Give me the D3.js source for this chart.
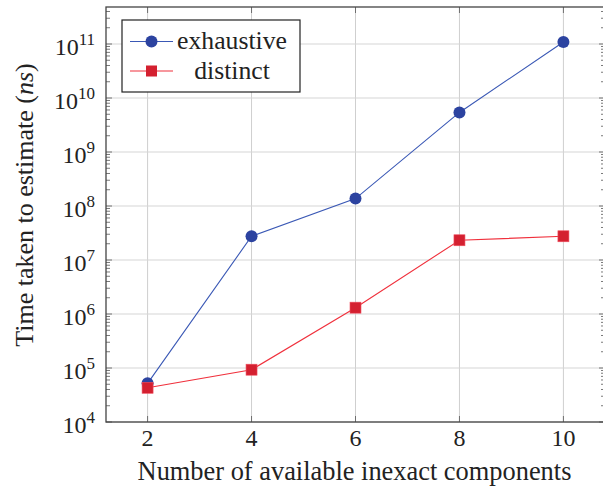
<!DOCTYPE html>
<html>
<head>
<meta charset="utf-8">
<script src="https://cdnjs.cloudflare.com/ajax/libs/d3/7.8.5/d3.min.js"></script>
</head>
<body style="margin:0">
<div id="chart"></div>
<script>
// data
const components = [2, 4, 6, 8, 10];
const exhaustive = [5.2e4, 2.75e7, 1.37e8, 5.4e9, 1.09e11];
const distinct = [4.3e4, 9.3e4, 1.31e6, 2.32e7, 2.75e7];
const xTicks = [2, 4, 6, 8, 10];
const yExponents = [4, 5, 6, 7, 8, 9, 10, 11];

const width = 603;
const height = 491;
const plotLeft = 106, plotRight = 605, plotTop = 7, plotBottom = 422;
const fontName = "Liberation Serif";
const textColor = "#222";

const svg = d3.select("#chart")
              .append("svg")
              .attr("width", width)
              .attr("height", height)
              .attr("font-family", fontName);

const xScale = d3.scaleLinear()
                 .domain([1.2, 10.8])
                 .range([plotLeft, plotRight]);

const yScale = d3.scaleLog()
                 .domain([1e4, Math.pow(10, 4 + (plotBottom - plotTop) / 54)])
                 .range([plotBottom, plotTop]);

// grid
svg.append("g")
   .selectAll("line")
   .data(xTicks)
   .enter()
   .append("line")
   .attr("x1", d => xScale(d)).attr("x2", d => xScale(d))
   .attr("y1", plotTop).attr("y2", plotBottom)
   .attr("stroke", "#cfcfcf").attr("stroke-width", 1);

svg.append("g")
   .selectAll("line")
   .data(yExponents)
   .enter()
   .append("line")
   .attr("x1", plotLeft).attr("x2", plotRight)
   .attr("y1", d => yScale(Math.pow(10, d))).attr("y2", d => yScale(Math.pow(10, d)))
   .attr("stroke", "#d6d6d6").attr("stroke-width", 1.2);

// minor ticks for log axis, inward on left and right
const minor = [];
for (let e = 4; e <= 11; e++) {
  for (let m = 2; m <= 9; m++) {
    const v = m * Math.pow(10, e);
    if (yScale(v) >= plotTop) minor.push(v);
  }
}
const tickColor = "#555";
[plotLeft, plotRight].forEach(function(xx) {
  const dir = xx === plotLeft ? 1 : -1;
  svg.append("g")
     .selectAll("line")
     .data(minor)
     .enter()
     .append("line")
     .attr("x1", xx).attr("x2", xx + dir * 4)
     .attr("y1", d => yScale(d)).attr("y2", d => yScale(d))
     .attr("stroke", tickColor).attr("stroke-width", 0.8);
  svg.append("g")
     .selectAll("line")
     .data(yExponents)
     .enter()
     .append("line")
     .attr("x1", xx).attr("x2", xx + dir * 6)
     .attr("y1", d => yScale(Math.pow(10, d))).attr("y2", d => yScale(Math.pow(10, d)))
     .attr("stroke", tickColor).attr("stroke-width", 0.8);
});
[plotBottom, plotTop].forEach(function(yy) {
  const dir = yy === plotBottom ? -1 : 1;
  svg.append("g")
     .selectAll("line")
     .data(xTicks)
     .enter()
     .append("line")
     .attr("x1", d => xScale(d)).attr("x2", d => xScale(d))
     .attr("y1", yy).attr("y2", yy + dir * 6)
     .attr("stroke", tickColor).attr("stroke-width", 0.8);
});

// frame
svg.append("rect")
   .attr("x", plotLeft).attr("y", plotTop)
   .attr("width", plotRight - plotLeft).attr("height", plotBottom - plotTop)
   .attr("fill", "none").attr("stroke", "#444").attr("stroke-width", 1.3);

// tick labels
svg.selectAll(".xlab")
   .data(xTicks)
   .enter()
   .append("text")
   .attr("class", "xlab")
   .attr("x", d => xScale(d))
   .attr("y", 446)
   .attr("text-anchor", "middle")
   .attr("font-family", fontName)
   .attr("font-size", 24)
   .attr("fill", textColor)
   .text(d => d);

const yLab = svg.selectAll(".ylab")
   .data(yExponents)
   .enter()
   .append("text")
   .attr("class", "ylab")
   .attr("x", 95)
   .attr("y", d => yScale(Math.pow(10, d)) + 11)
   .attr("text-anchor", "end")
   .attr("font-family", fontName)
   .attr("font-size", 24)
   .attr("fill", textColor);
yLab.append("tspan").text("10");
yLab.append("tspan").attr("font-size", 17).attr("dy", -10).text(d => d);

// axis labels
svg.append("text")
   .attr("x", (plotLeft + plotRight) / 2 - 1)
   .attr("y", 480)
   .attr("text-anchor", "middle")
   .attr("font-family", fontName)
   .attr("font-size", 26.4)
   .attr("fill", textColor)
   .text("Number of available inexact components");

const yTitle = svg.append("text")
   .attr("transform", "translate(33,205) rotate(-90)")
   .attr("text-anchor", "middle")
   .attr("font-family", fontName)
   .attr("font-size", 26)
   .attr("fill", textColor);
yTitle.append("tspan").text("Time taken to estimate (");
yTitle.append("tspan").attr("font-style", "italic").text("ns");
yTitle.append("tspan").text(")");

// series
const blueLine = "#3a58b5", blueMark = "#2c43a0";
const redLine = "#f0303c", redMark = "#d42030";

const line = d3.line()
               .x((d, i) => xScale(components[i]))
               .y(d => yScale(d));

svg.append("path")
   .datum(exhaustive)
   .attr("d", line)
   .attr("fill", "none").attr("stroke", blueLine).attr("stroke-width", 1.1);

svg.selectAll(".dot")
   .data(exhaustive)
   .enter()
   .append("circle")
   .attr("class", "dot")
   .attr("cx", (d, i) => xScale(components[i]))
   .attr("cy", d => yScale(d))
   .attr("r", 6)
   .attr("fill", blueMark);

svg.append("path")
   .datum(distinct)
   .attr("d", line)
   .attr("fill", "none").attr("stroke", redLine).attr("stroke-width", 1.1);

svg.selectAll(".sq")
   .data(distinct)
   .enter()
   .append("rect")
   .attr("class", "sq")
   .attr("x", (d, i) => xScale(components[i]) - 5.5)
   .attr("y", d => yScale(d) - 5.5)
   .attr("width", 11).attr("height", 11)
   .attr("fill", redMark).attr("stroke", "#f05060").attr("stroke-width", 0.6);

// legend
const lg = svg.append("g");
lg.append("rect")
  .attr("x", 122).attr("y", 20).attr("width", 178).attr("height", 72)
  .attr("fill", "#fff").attr("stroke", "#222").attr("stroke-width", 1.2);
lg.append("line").attr("x1", 130).attr("x2", 173).attr("y1", 41.5).attr("y2", 41.5)
  .attr("stroke", blueLine).attr("stroke-width", 1.1);
lg.append("circle").attr("cx", 151.5).attr("cy", 41.5).attr("r", 6).attr("fill", blueMark);
lg.append("line").attr("x1", 130).attr("x2", 173).attr("y1", 71).attr("y2", 71)
  .attr("stroke", redLine).attr("stroke-width", 1.1);
lg.append("rect").attr("x", 146).attr("y", 65.5).attr("width", 11).attr("height", 11)
  .attr("fill", redMark);
lg.append("text").attr("x", 232).attr("y", 49).attr("text-anchor", "middle")
  .attr("font-family", fontName).attr("font-size", 25.7).attr("fill", textColor).text("exhaustive");
lg.append("text").attr("x", 232).attr("y", 79).attr("text-anchor", "middle")
  .attr("font-family", fontName).attr("font-size", 25.7).attr("fill", textColor).text("distinct");
</script>
</body>
</html>
